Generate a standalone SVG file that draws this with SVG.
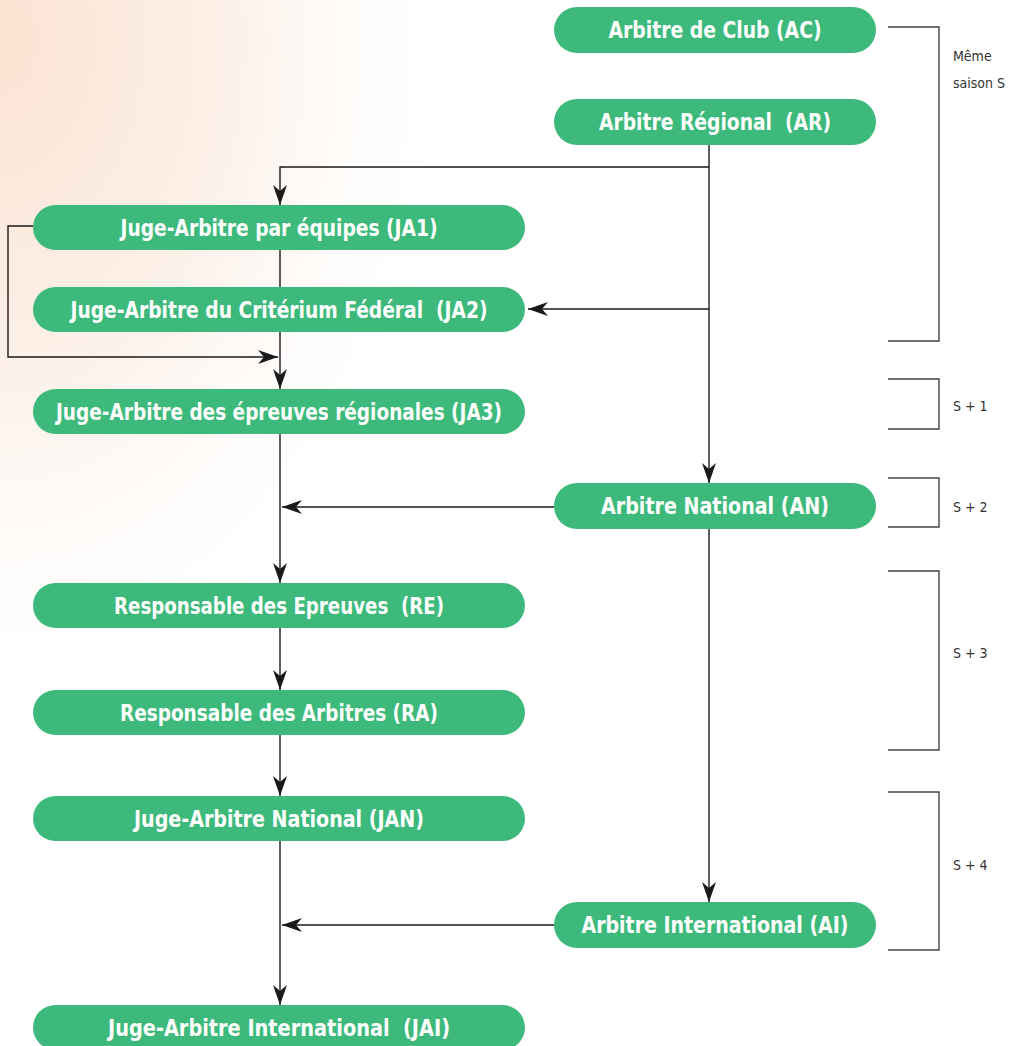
<svg xmlns="http://www.w3.org/2000/svg" width="1009" height="1046" viewBox="0 0 1009 1046">
  <defs>
    <radialGradient id="bg" cx="0" cy="0" r="1" gradientUnits="userSpaceOnUse" gradientTransform="translate(0,40) scale(470,680)">
      <stop offset="0" stop-color="#fbe3d2"/>
      <stop offset="0.5" stop-color="#fcf1e9"/>
      <stop offset="1" stop-color="#ffffff" stop-opacity="0"/>
    </radialGradient>
    <marker id="arr" viewBox="0 0 20 14" refX="20" refY="7" markerWidth="20" markerHeight="14" orient="auto" markerUnits="userSpaceOnUse">
      <path d="M0,0 L20,7 L0,14 L6,7 Z" fill="#1a1a1a"/>
    </marker>
    <style>
      .node rect { fill: #3dba7b; }
      .node text { fill: #ffffff; font-family: "DejaVu Sans Condensed", "DejaVu Sans", sans-serif; font-weight: bold; font-size: 23px; text-anchor: middle; white-space: pre; }
      .conn path { fill: none; stroke: #1a1a1a; stroke-width: 1.4; }
      .conn path.a { marker-end: url(#arr); }
      .brk path { fill: none; stroke: #444; stroke-width: 1.4; }
      .lbl { fill: #333; font-family: "DejaVu Sans Condensed", "DejaVu Sans", sans-serif; font-size: 14px; white-space: pre; }
    </style>
  </defs>
  <rect width="1009" height="1046" fill="#ffffff"/>
  <rect width="1009" height="1046" fill="url(#bg)"/>

  <g id="connectors" class="conn">
    <path class="a" d="M709,145 V483"/>
    <path class="a" d="M709,167 H280 V205"/>
    <path class="a" d="M709,309 H528"/>
    <path d="M280,250 V287"/>
    <path class="a" d="M280,332 V389"/>
    <path class="a" d="M33,226 H8 V357 H278"/>
    <path class="a" d="M554,507 H282"/>
    <path class="a" d="M280,434 V583"/>
    <path class="a" d="M280,628 V690"/>
    <path class="a" d="M280,735 V796"/>
    <path class="a" d="M280,841 V1005"/>
    <path class="a" d="M709,529 V902"/>
    <path class="a" d="M554,925 H282"/>
  </g>

  <g id="brackets" class="brk">
    <path d="M888,27 H939 V341 H888"/>
    <path d="M888,379 H939 V429 H888"/>
    <path d="M888,478 H939 V527 H888"/>
    <path d="M888,571 H939 V750 H888"/>
    <path d="M888,792 H939 V950 H888"/>
  </g>
  <g id="labels">
    <text class="lbl" x="953" y="61">Même</text>
    <text class="lbl" x="953" y="88">saison S</text>
    <text class="lbl" x="953" y="411">S + 1</text>
    <text class="lbl" x="953" y="512">S + 2</text>
    <text class="lbl" x="953" y="658">S + 3</text>
    <text class="lbl" x="953" y="870">S + 4</text>
  </g>

  <g id="AC" class="node"><rect x="554" y="7" width="322" height="46" rx="23"/><text x="715" y="38" textLength="213" lengthAdjust="spacingAndGlyphs">Arbitre de Club (AC)</text></g>
  <g id="AR" class="node"><rect x="554" y="99" width="322" height="46" rx="23"/><text x="715" y="130" textLength="232" lengthAdjust="spacingAndGlyphs">Arbitre Régional  (AR)</text></g>
  <g id="JA1" class="node"><rect x="33" y="205" width="492" height="45" rx="22.5"/><text x="279" y="236" textLength="317" lengthAdjust="spacingAndGlyphs">Juge-Arbitre par équipes (JA1)</text></g>
  <g id="JA2" class="node"><rect x="33" y="287" width="492" height="45" rx="22.5"/><text x="279" y="318" textLength="417" lengthAdjust="spacingAndGlyphs">Juge-Arbitre du Critérium Fédéral  (JA2)</text></g>
  <g id="JA3" class="node"><rect x="33" y="389" width="492" height="45" rx="22.5"/><text x="279" y="420" textLength="446" lengthAdjust="spacingAndGlyphs">Juge-Arbitre des épreuves régionales (JA3)</text></g>
  <g id="AN" class="node"><rect x="554" y="483" width="322" height="46" rx="23"/><text x="715" y="514" textLength="228" lengthAdjust="spacingAndGlyphs">Arbitre National (AN)</text></g>
  <g id="RE" class="node"><rect x="33" y="583" width="492" height="45" rx="22.5"/><text x="279" y="614" textLength="330" lengthAdjust="spacingAndGlyphs">Responsable des Epreuves  (RE)</text></g>
  <g id="RA" class="node"><rect x="33" y="690" width="492" height="45" rx="22.5"/><text x="279" y="721" textLength="318" lengthAdjust="spacingAndGlyphs">Responsable des Arbitres (RA)</text></g>
  <g id="JAN" class="node"><rect x="33" y="796" width="492" height="45" rx="22.5"/><text x="279" y="827" textLength="290" lengthAdjust="spacingAndGlyphs">Juge-Arbitre National (JAN)</text></g>
  <g id="AI" class="node"><rect x="554" y="902" width="322" height="46" rx="23"/><text x="715" y="933" textLength="267" lengthAdjust="spacingAndGlyphs">Arbitre International (AI)</text></g>
  <g id="JAI" class="node"><rect x="33" y="1005" width="492" height="45" rx="22.5"/><text x="279" y="1036" textLength="342" lengthAdjust="spacingAndGlyphs">Juge-Arbitre International  (JAI)</text></g>
</svg>
